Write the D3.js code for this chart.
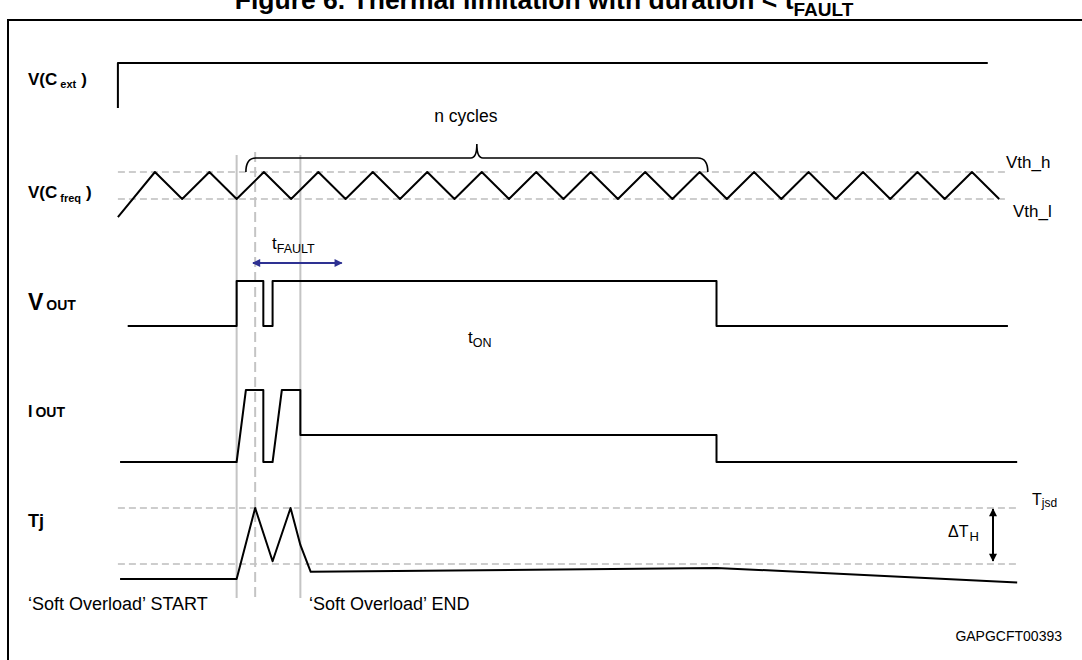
<!DOCTYPE html>
<html>
<head>
<meta charset="utf-8">
<script src="https://cdn.jsdelivr.net/npm/d3@7"></script>
<style>
  body { margin: 0; background: #fff; }
  svg { display: block; }
  text { font-family: "Liberation Sans", Arial, sans-serif; fill: #000; }
</style>
</head>
<body>
<svg id="chart" width="1082" height="660"></svg>
<script>
// Time is counted in V(Cfreq) cycles, 0 = the trough just left of the plot.
const cextT = [-0.18, -0.18, 15.79];
const cextV = [0, 1, 1];

const cfreqT = [-0.18, 0.5, 1, 1.5, 2, 2.5, 3, 3.5, 4, 4.5, 5, 5.5, 6, 6.5, 7, 7.5, 8,
  8.5, 9, 9.5, 10, 10.5, 11, 11.5, 12, 12.5, 13, 13.5, 14, 14.5, 15, 15.5, 16];
const cfreqV = [-0.67, 1, 0, 1, 0, 1, 0, 1, 0, 1, 0, 1, 0, 1, 0, 1, 0,
  1, 0, 1, 0, 1, 0, 1, 0, 1, 0, 1, 0, 1, 0, 1, 0];

const voutT = [0, 2.0, 2.0, 2.49, 2.49, 2.66, 2.66, 10.81, 10.81, 16.16];
const voutV = [0, 0, 1, 1, 0, 0, 1, 1, 0, 0];

const ioutT = [-0.14, 2.0, 2.17, 2.49, 2.49, 2.66, 2.83, 3.17, 3.17, 10.81, 10.81, 16.33];
const ioutV = [0, 0, 1, 1, 0, 0, 1, 1, 0.375, 0.375, 0, 0];

// Tj: 1 = Tjsd, 0 = Tjsd - deltaTH
const tjT = [-0.14, 2.0, 2.34, 2.66, 2.99, 3.17, 3.36, 10.81, 16.33];
const tjV = [-0.27, -0.27, 1, 0.05, 1, 0.34, -0.14, -0.07, -0.33];

// event markers: soft overload start, tFAULT start, soft overload end
const markerT = [2.0, 2.34, 3.17];
const markerDashed = [false, true, false];

const vthRange = [-0.18, 16.16];
const tjThRange = [-0.18, 16.33];
const braceRange = [2.17, 10.65];
const tFaultRange = [2.30, 3.93];

const svg = d3.select('#chart');
const x = d3.scaleLinear().domain([0, 16]).range([127.7, 999.2]);

const lanes = {
  cext: d3.scaleLinear().domain([0, 1]).range([108, 63]),
  cfreq: d3.scaleLinear().domain([0, 1]).range([199, 172]),
  vout: d3.scaleLinear().domain([0, 1]).range([326, 281]),
  iout: d3.scaleLinear().domain([0, 1]).range([462, 390]),
  tj: d3.scaleLinear().domain([0, 1]).range([564, 508])
};

// frame
svg.append('path')
  .attr('d', 'M8,662 L8,20 L1084,20')
  .attr('fill', 'none').attr('stroke', '#000').attr('stroke-width', 2);

// title (clipped at top of the page, as in the source)
const title = svg.append('text')
  .attr('x', 544).attr('y', 9)
  .attr('text-anchor', 'middle')
  .attr('font-size', 26.5).attr('font-weight', 'bold')
  .text('Figure 6. Thermal limitation with duration  < t');
title.append('tspan').attr('font-size', 19).attr('dy', 7).text('FAULT');

// threshold dashed lines
const dashed = (y, range) => svg.append('line')
  .attr('x1', x(range[0])).attr('x2', x(range[1]))
  .attr('y1', y).attr('y2', y)
  .attr('stroke', '#bdbdbd').attr('stroke-width', 1.6)
  .attr('stroke-dasharray', '7,4');
dashed(lanes.cfreq(1), vthRange);
dashed(lanes.cfreq(0), vthRange);
dashed(lanes.tj(1), tjThRange);
dashed(lanes.tj(0), tjThRange);

// vertical event markers
svg.selectAll('line.marker')
  .data(markerT)
  .enter().append('line')
  .attr('class', 'marker')
  .attr('x1', d => x(d)).attr('x2', d => x(d))
  .attr('y1', (d, i) => markerDashed[i] ? 152 : 155)
  .attr('y2', 598)
  .attr('stroke', '#c4c4c4').attr('stroke-width', 2)
  .attr('stroke-dasharray', (d, i) => markerDashed[i] ? '10,5' : null);

// waveforms
const waves = [
  [cextT, cextV, lanes.cext],
  [cfreqT, cfreqV, lanes.cfreq],
  [voutT, voutV, lanes.vout],
  [ioutT, ioutV, lanes.iout],
  [tjT, tjV, lanes.tj]
];
waves.forEach(([ts, vs, y]) => {
  const line = d3.line().x(d => x(d[0])).y(d => y(d[1]));
  svg.append('path')
    .datum(ts.map((t, i) => [t, vs[i]]))
    .attr('d', line)
    .attr('fill', 'none').attr('stroke', '#000')
    .attr('stroke-width', 2).attr('stroke-linejoin', 'round');
});

// n cycles brace
{
  const x0 = x(braceRange[0]), x1 = x(braceRange[1]);
  const xm = x((braceRange[0] + braceRange[1]) / 2);
  const yb = 158, ye = lanes.cfreq(1), yt = 144;
  const p = `M${x0},${ye} Q${x0},${yb} ${x0 + 10},${yb} L${xm - 6},${yb} Q${xm},${yb} ${xm},${yt}` +
    ` Q${xm},${yb} ${xm + 6},${yb} L${x1 - 10},${yb} Q${x1},${yb} ${x1},${ye}`;
  svg.append('path').attr('d', p).attr('fill', 'none')
    .attr('stroke', '#000').attr('stroke-width', 1.6);
  svg.append('text').attr('x', xm - 11).attr('y', 122)
    .attr('text-anchor', 'middle').attr('font-size', 17.5).text('n cycles');
}

// arrow markers
const defs = svg.append('defs');
const mkArrow = (id, color) => defs.append('marker')
  .attr('id', id).attr('viewBox', '0 0 10 10')
  .attr('refX', 9).attr('refY', 5)
  .attr('markerWidth', 5).attr('markerHeight', 4)
  .attr('markerUnits', 'strokeWidth')
  .attr('orient', 'auto-start-reverse')
  .append('path').attr('d', 'M0,0 L10,5 L0,10 z').attr('fill', color);
mkArrow('arrBlue', '#2e3192');
mkArrow('arrBlack', '#000');

// tFAULT arrow
svg.append('line')
  .attr('x1', x(tFaultRange[0])).attr('x2', x(tFaultRange[1]))
  .attr('y1', 263).attr('y2', 263)
  .attr('stroke', '#2e3192').attr('stroke-width', 2)
  .attr('marker-start', 'url(#arrBlue)').attr('marker-end', 'url(#arrBlue)');
{
  const t = svg.append('text').attr('x', 272).attr('y', 249).attr('font-size', 17).text('t');
  t.append('tspan').attr('font-size', 12.5).attr('dy', 3.5).text('FAULT');
}

// delta TH arrow
svg.append('line')
  .attr('x1', 993).attr('x2', 993)
  .attr('y1', lanes.tj(1) + 1).attr('y2', lanes.tj(0) - 3)
  .attr('stroke', '#000').attr('stroke-width', 2)
  .attr('marker-start', 'url(#arrBlack)').attr('marker-end', 'url(#arrBlack)');

// left lane labels
const lab = (txt, y, size, sub, subSize, subDy, tail) => {
  const t = svg.append('text').attr('x', 28).attr('y', y)
    .attr('font-size', size).attr('font-weight', 'bold').text(txt);
  if (sub) t.append('tspan').attr('font-size', subSize).attr('dx', 3).attr('dy', subDy).text(sub);
  if (tail) t.append('tspan').attr('font-size', size).attr('dx', 5).attr('dy', -subDy).text(tail);
};
lab('V(C', 85, 17, 'ext', 11, 3, ')');
lab('V(C', 198, 17, 'freq', 11, 4, ')');
lab('V', 310, 23, 'OUT', 14, 0, null);
lab('I', 417, 16, 'OUT', 14, 0, null);
lab('Tj', 527, 18, null, 0, 0, null);

// right and body annotations
svg.append('text').attr('x', 1006).attr('y', 168).attr('font-size', 17).text('Vth_h');
svg.append('text').attr('x', 1013).attr('y', 217).attr('font-size', 17).text('Vth_l');
{
  const t = svg.append('text').attr('x', 468).attr('y', 343).attr('font-size', 17).text('t');
  t.append('tspan').attr('font-size', 12.5).attr('dy', 3.5).text('ON');
}
{
  const t = svg.append('text').attr('x', 1032).attr('y', 505).attr('font-size', 16).text('T');
  t.append('tspan').attr('font-size', 12).attr('dy', 2).text('jsd');
}
{
  const t = svg.append('text').attr('x', 948).attr('y', 537).attr('font-size', 16).text('\u0394T');
  t.append('tspan').attr('font-size', 13).attr('dx', 1).attr('dy', 4).text('H');
}
svg.append('text').attr('x', 28).attr('y', 610).attr('font-size', 18).text('\u2018Soft Overload\u2019 START');
svg.append('text').attr('x', 309).attr('y', 610).attr('font-size', 18).text('\u2018Soft Overload\u2019 END');
svg.append('text').attr('x', 1062).attr('y', 641).attr('text-anchor', 'end').attr('font-size', 14).text('GAPGCFT00393');
</script>
</body>
</html>
